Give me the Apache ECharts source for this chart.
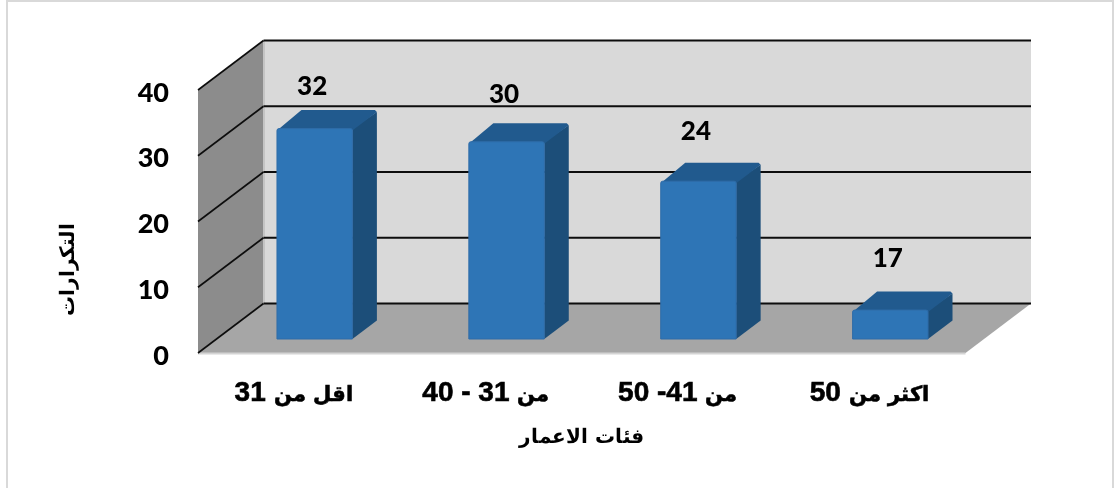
<!DOCTYPE html>
<html>
<head>
<meta charset="utf-8">
<style>
html,body{margin:0;padding:0;background:#fff}#c{width:1114px;height:488px}
@font-face{font-family:"ArCompact";src:local("DejaVu Sans Bold");font-weight:bold;unicode-range:U+0600-06FF;size-adjust:76%}
</style>
<script src="https://cdn.jsdelivr.net/npm/echarts@6/dist/echarts.min.js"></script>
</head>
<body>
<div id="c"></div>
<script>
const categories = ['اقل من 31', 'من 31 - 40', 'من 41- 50', 'اكثر من 50'];
const barHeights = [32, 30, 24, 4.4];
const barLabels = ['32', '30', '24', '17'];
const valueTicks = [0, 10, 20, 30, 40];
const yAxisTitle = 'التكرارات';
const xAxisTitle = 'فئات الاعمار';

// projection constants of the fake-3D box (pixels)
const WALL_DX = 65.5, WALL_DY = -49.5;
const BAR_DX = 20.75, BAR_DY = -14;
const DEPTH_DX = 24.5, DEPTH_DY = -18.5;
const LABEL_LIFT = [55.5, 61.5, 64, 65];
const LABEL_SHIFT = -2.5;
const NUM_FAMILY = 'Lato, "Open Sans", sans-serif';
const AR_FONT = 'ArCompact, "Liberation Sans", "DejaVu Sans", sans-serif';

function poly(points, fill) {
  return { type: 'polygon', shape: { points }, style: { fill }, silent: true };
}

function renderBox(params, api) {
  const cs = params.coordSys;
  const tick = api.value(1);
  const left = cs.x, right = cs.x + cs.width;
  const y = api.coord([0, tick])[1];
  const children = [];
  if (params.dataIndex === 0) {
    const yTop = api.coord([0, valueTicks[valueTicks.length - 1]])[1];
    children.push(poly([[left + WALL_DX, yTop + WALL_DY], [right + WALL_DX, yTop + WALL_DY], [right + WALL_DX, y + WALL_DY], [left + WALL_DX, y + WALL_DY]], '#d9d9d9'));
    children.push(poly([[left, yTop], [left + WALL_DX, yTop + WALL_DY], [left + WALL_DX, y + WALL_DY], [left, y]], '#8c8c8c'));
    children.push(poly([[left, y], [left + WALL_DX, y + WALL_DY], [right + WALL_DX, y + WALL_DY], [right, y]], '#a6a6a6'));
    children.push({ type: 'line', shape: { x1: left, y1: y + 0.5, x2: right, y2: y + 0.5 }, style: { stroke: '#d4d4d4', lineWidth: 2 }, silent: true });
    children.push({ type: 'line', shape: { x1: left + WALL_DX + 0.5, y1: yTop + WALL_DY, x2: left + WALL_DX + 0.5, y2: y + WALL_DY }, style: { stroke: '#c4c4c4', lineWidth: 2 }, silent: true });
  }
  children.push({ type: 'line', shape: { x1: left + WALL_DX, y1: y + WALL_DY, x2: right + WALL_DX, y2: y + WALL_DY }, style: { stroke: '#0d0d0d', lineWidth: 2 }, silent: true });
  children.push({ type: 'line', shape: { x1: left, y1: y, x2: left + WALL_DX, y2: y + WALL_DY }, style: { stroke: '#0d0d0d', lineWidth: 1.6 }, silent: true });
  return { type: 'group', children };
}

function renderBar(params, api) {
  const i = api.value(0);
  const v = api.value(1);
  const base = api.coord([i, 0]);
  const top = api.coord([i, v]);
  const w = api.size([1, 0])[0] * 0.393;
  const x0 = base[0] + BAR_DX - w / 2, x1 = x0 + w;
  const yb = base[1] + BAR_DY, yt = top[1] + BAR_DY;
  const r = 2;
  return {
    type: 'group',
    children: [
      poly([[x1, yt], [x1 + DEPTH_DX, yt + DEPTH_DY + r], [x1 + DEPTH_DX, yb + DEPTH_DY], [x1, yb]], '#1c4e79'),
      poly([[x0, yt + r], [x0 + DEPTH_DX, yt + DEPTH_DY], [x1 + DEPTH_DX - r, yt + DEPTH_DY], [x1 + DEPTH_DX, yt + DEPTH_DY + r], [x1, yt + r]], '#215a8e'),
      { type: 'rect', shape: { x: x0, y: yt, width: w, height: yb - yt, r: [2, 2, 0, 0] }, style: { fill: '#2e75b6', stroke: '#2f6ca8', lineWidth: 1 }, silent: true },
      { type: 'text', silent: true, style: { text: barLabels[params.dataIndex], x: base[0] + BAR_DX + LABEL_SHIFT, y: top[1] - LABEL_LIFT[params.dataIndex], align: 'center', verticalAlign: 'middle', font: '900 26px ' + NUM_FAMILY, fill: '#000' } }
    ]
  };
}

function draw() {
  const chart = echarts.init(document.getElementById('c'), null, { renderer: 'canvas' });
  chart.setOption({
    animation: false,
    backgroundColor: '#fff',
    graphic: [{
      type: 'rect', z: -10, silent: true,
      shape: { x: 7, y: 1, width: 1106, height: 495 },
      style: { fill: 'none', stroke: '#d9d9d9', lineWidth: 2 }
    }],
    grid: { left: 198, right: 148.5, top: 90, bottom: 135 },
    xAxis: {
      type: 'category',
      data: categories,
      axisLine: { show: false },
      axisTick: { show: false },
      axisLabel: { fontFamily: AR_FONT, fontWeight: 'bold', fontSize: 28, color: '#000', margin: 26, textBorderColor: '#000', textBorderWidth: 0.6 },
      name: xAxisTitle,
      nameLocation: 'middle',
      nameGap: 70,
      nameTextStyle: { fontFamily: AR_FONT, fontWeight: 'bold', fontSize: 26, color: '#000' }
    },
    yAxis: {
      type: 'value',
      min: 0,
      max: 40,
      interval: 10,
      axisLine: { show: false },
      axisTick: { show: false },
      splitLine: { show: false },
      axisLabel: { fontFamily: NUM_FAMILY, fontWeight: 900, fontSize: 27, color: '#000', margin: 29, verticalAlign: 'top', lineHeight: 6 },
      name: yAxisTitle,
      nameLocation: 'middle',
      nameGap: 118,
      nameRotate: 90,
      nameTextStyle: { fontFamily: AR_FONT, fontWeight: 'bold', fontSize: 26, color: '#000', padding: [0, 96, 0, 0] }
    },
    series: [
      { type: 'custom', name: 'box', silent: true, renderItem: renderBox, data: valueTicks.map(t => [0, t]), encode: { x: 0, y: 1 }, z: 1, clip: false },
      { type: 'custom', name: 'bars', silent: true, renderItem: renderBar, data: barHeights.map((v, i) => [i, v]), encode: { x: 0, y: 1 }, z: 2, clip: false }
    ]
  });
}
document.fonts.load('bold 27px ArCompact', 'من').then(draw, draw);
</script>
</body>
</html>
